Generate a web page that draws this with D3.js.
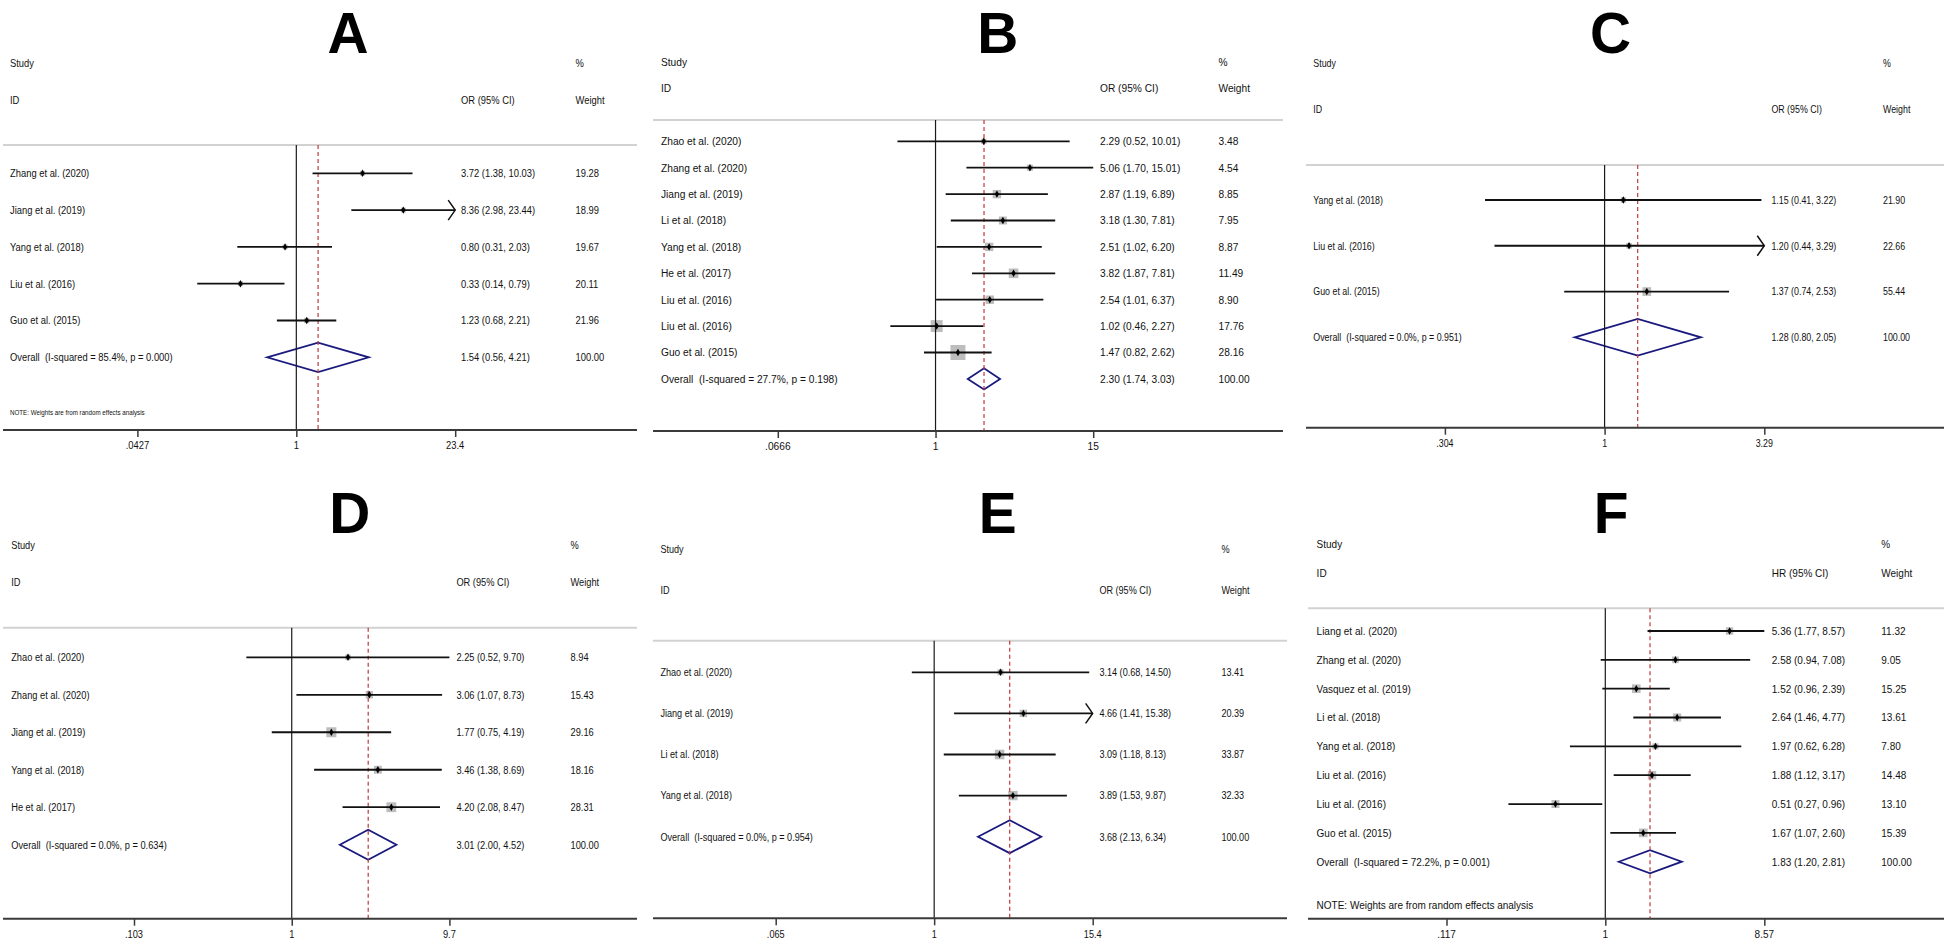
<!DOCTYPE html>
<html><head><meta charset="utf-8">
<script src="https://cdn.jsdelivr.net/npm/d3@7"></script>
<style>
body{margin:0;background:#fff}
svg{display:block}
text{font-family:"Liberation Sans",Arial,"DejaVu Sans",sans-serif;fill:#111;white-space:pre}
</style>
</head><body>
<svg id="chart" width="1944" height="942"></svg>
<script>
// ---------- Panel A ----------
const studiesA = ["Zhang et al. (2020)","Jiang et al. (2019)","Yang et al. (2018)","Liu et al. (2016)","Guo et al. (2015)"];
const estA = [3.72, 8.36, 0.80, 0.33, 1.23];
const lowA = [1.38, 2.98, 0.31, 0.14, 0.68];
const highA = [10.03, 23.44, 2.03, 0.79, 2.21];
const weightA = [19.28, 18.99, 19.67, 20.11, 21.96];
const arrowA = [false, true, false, false, false];
const overallA = [1.54, 0.56, 4.21];
const hetA = ["85.4%", "0.000"];
const tickValsA = [0.0427, 1, 23.4];
const tickLabelsA = [".0427", "1", "23.4"];

// ---------- Panel B ----------
const studiesB = ["Zhao et al. (2020)","Zhang et al. (2020)","Jiang et al. (2019)","Li et al. (2018)","Yang et al. (2018)","He et al. (2017)","Liu et al. (2016)","Liu et al. (2016)","Guo et al. (2015)"];
const estB = [2.29, 5.06, 2.87, 3.18, 2.51, 3.82, 2.54, 1.02, 1.47];
const lowB = [0.52, 1.70, 1.19, 1.30, 1.02, 1.87, 1.01, 0.46, 0.82];
const highB = [10.01, 15.01, 6.89, 7.81, 6.20, 7.81, 6.37, 2.27, 2.62];
const weightB = [3.48, 4.54, 8.85, 7.95, 8.87, 11.49, 8.90, 17.76, 28.16];
const arrowB = [false, false, false, false, false, false, false, false, false];
const overallB = [2.30, 1.74, 3.03];
const hetB = ["27.7%", "0.198"];
const tickValsB = [0.0666, 1, 15];
const tickLabelsB = [".0666", "1", "15"];

// ---------- Panel C ----------
const studiesC = ["Yang et al. (2018)","Liu et al. (2016)","Guo et al. (2015)"];
const estC = [1.15, 1.20, 1.37];
const lowC = [0.41, 0.44, 0.74];
const highC = [3.22, 3.29, 2.53];
const weightC = [21.90, 22.66, 55.44];
const arrowC = [false, true, false];
const overallC = [1.28, 0.80, 2.05];
const hetC = ["0.0%", "0.951"];
const tickValsC = [0.304, 1, 3.29];
const tickLabelsC = [".304", "1", "3.29"];

// ---------- Panel D ----------
const studiesD = ["Zhao et al. (2020)","Zhang et al. (2020)","Jiang et al. (2019)","Yang et al. (2018)","He et al. (2017)"];
const estD = [2.25, 3.06, 1.77, 3.46, 4.20];
const lowD = [0.52, 1.07, 0.75, 1.38, 2.08];
const highD = [9.70, 8.73, 4.19, 8.69, 8.47];
const weightD = [8.94, 15.43, 29.16, 18.16, 28.31];
const arrowD = [false, false, false, false, false];
const overallD = [3.01, 2.00, 4.52];
const hetD = ["0.0%", "0.634"];
const tickValsD = [0.103, 1, 9.7];
const tickLabelsD = [".103", "1", "9.7"];

// ---------- Panel E ----------
const studiesE = ["Zhao et al. (2020)","Jiang et al. (2019)","Li et al. (2018)","Yang et al. (2018)"];
const estE = [3.14, 4.66, 3.09, 3.89];
const lowE = [0.68, 1.41, 1.18, 1.53];
const highE = [14.50, 15.38, 8.13, 9.87];
const weightE = [13.41, 20.39, 33.87, 32.33];
const arrowE = [false, true, false, false];
const overallE = [3.68, 2.13, 6.34];
const hetE = ["0.0%", "0.954"];
const tickValsE = [0.065, 1, 15.4];
const tickLabelsE = [".065", "1", "15.4"];

// ---------- Panel F ----------
const studiesF = ["Liang et al. (2020)","Zhang et al. (2020)","Vasquez et al. (2019)","Li et al. (2018)","Yang et al. (2018)","Liu et al. (2016)","Liu et al. (2016)","Guo et al. (2015)"];
const estF = [5.36, 2.58, 1.52, 2.64, 1.97, 1.88, 0.51, 1.67];
const lowF = [1.77, 0.94, 0.96, 1.46, 0.62, 1.12, 0.27, 1.07];
const highF = [8.57, 7.08, 2.39, 4.77, 6.28, 3.17, 0.96, 2.60];
const weightF = [11.32, 9.05, 15.25, 13.61, 7.80, 14.48, 13.10, 15.39];
const arrowF = [false, false, false, false, false, false, false, false];
const overallF = [1.83, 1.20, 2.81];
const hetF = ["72.2%", "0.001"];
const tickValsF = [0.117, 1, 8.57];
const tickLabelsF = [".117", "1", "8.57"];

const noteText = "NOTE: Weights are from random effects analysis";

// ---------- Layout (positions / sizes only) ----------
const layouts = {
  A:{title:[348,53], study:63.3, id:100, rule:145, row0:173.3, step:36.8, axis:430, x1:296.3, half:158.9, left:10, colEst:461, colW:575.5, lineL:3, lineR:637, noteY:412, noteSize:7.3, box:1.12, sx:0.853},
  B:{title:[997.7,53], study:62, id:88.3, rule:120, row0:141.3, step:26.4, axis:431, x1:935.5, half:157.7, left:661, colEst:1100, colW:1218.5, lineL:653, lineR:1283, box:2.83, sx:0.927},
  C:{title:[1610.4,53], study:63.3, id:108.7, rule:165, row0:200, step:45.77, axis:427.7, x1:1604.6, half:159.7, left:1313.3, colEst:1771.4, colW:1883, lineL:1306, lineR:1944, box:1.17, sx:0.805},
  D:{title:[349.8,533], study:545, id:582.3, rule:627.7, row0:657.3, step:37.48, axis:918.7, x1:291.7, half:157.7, left:11.2, colEst:456.4, colW:570.5, lineL:3, lineR:637, box:1.85, sx:0.844},
  E:{title:[997.7,533], study:549, id:590, rule:640.7, row0:672.3, step:41.1, axis:918.3, x1:934.2, half:158.5, left:660.4, colEst:1099.4, colW:1221.4, lineL:653, lineR:1287, box:1.65, sx:0.827},
  F:{title:[1611.2,533], study:544, id:573, rule:608.3, row0:631, step:28.84, axis:918.7, x1:1605.4, half:158.9, left:1316.6, colEst:1771.8, colW:1881.3, lineL:1308, lineR:1944, noteY:905, noteSize:11, box:2.2, sx:0.909}
};

const panels = [
  {id:"A", studies:studiesA, est:estA, low:lowA, high:highA, weight:weightA, arrow:arrowA, overall:overallA, het:hetA, tickVals:tickValsA, tickLabels:tickLabelsA, measure:"OR (95% CI)", note:true},
  {id:"B", studies:studiesB, est:estB, low:lowB, high:highB, weight:weightB, arrow:arrowB, overall:overallB, het:hetB, tickVals:tickValsB, tickLabels:tickLabelsB, measure:"OR (95% CI)", note:false},
  {id:"C", studies:studiesC, est:estC, low:lowC, high:highC, weight:weightC, arrow:arrowC, overall:overallC, het:hetC, tickVals:tickValsC, tickLabels:tickLabelsC, measure:"OR (95% CI)", note:false},
  {id:"D", studies:studiesD, est:estD, low:lowD, high:highD, weight:weightD, arrow:arrowD, overall:overallD, het:hetD, tickVals:tickValsD, tickLabels:tickLabelsD, measure:"OR (95% CI)", note:false},
  {id:"E", studies:studiesE, est:estE, low:lowE, high:highE, weight:weightE, arrow:arrowE, overall:overallE, het:hetE, tickVals:tickValsE, tickLabels:tickLabelsE, measure:"OR (95% CI)", note:false},
  {id:"F", studies:studiesF, est:estF, low:lowF, high:highF, weight:weightF, arrow:arrowF, overall:overallF, het:hetF, tickVals:tickValsF, tickLabels:tickLabelsF, measure:"HR (95% CI)", note:true}
];

const svg = d3.select("#chart");
const f2 = d3.format(".2f");
const FS = 11;

function addText(g, x, y, str, sx, size, anchor, bold){
  return g.append("text")
    .attr("transform", `translate(${x},${y}) scale(${sx},1)`)
    .attr("dy", "0.35em")
    .attr("text-anchor", anchor || "start")
    .style("font-size", size + "px")
    .style("font-weight", bold ? "bold" : "normal")
    .text(str);
}

panels.forEach(p => {
  const L = layouts[p.id];
  const g = svg.append("g").attr("class", "panel-" + p.id);
  const n = p.studies.length;
  const x = d3.scaleLog()
    .domain([p.tickVals[0], p.tickVals[2]])
    .range([L.x1 - L.half, L.x1 + L.half])
    .clamp(true);
  const y = d3.scaleLinear().domain([0, n]).range([L.row0, L.row0 + n * L.step]);
  const rows = d3.range(n);

  // title letter
  g.append("text")
    .attr("transform", `translate(${L.title[0]},${L.title[1]}) scale(0.98,1)`)
    .attr("text-anchor", "middle")
    .style("font-size", "58px")
    .style("font-weight", "bold")
    .style("fill", "#000")
    .text(p.id);

  // headers
  addText(g, L.left, L.study, "Study", L.sx, FS);
  addText(g, L.left, L.id, "ID", L.sx, FS);
  addText(g, L.colW, L.study, "%", L.sx, FS);
  addText(g, L.colEst, L.id, p.measure, L.sx, FS);
  addText(g, L.colW, L.id, "Weight", L.sx, FS);

  // header rule
  g.append("line").attr("x1", L.lineL).attr("x2", L.lineR).attr("y1", L.rule).attr("y2", L.rule)
    .attr("stroke", "#d2d2d2").attr("stroke-width", 2);

  // weight boxes
  g.selectAll("rect.box").data(rows).join("rect").attr("class", "box")
    .attr("x", i => x(p.est[i]) - L.box * Math.sqrt(p.weight[i]) / 2)
    .attr("y", i => y(i) - L.box * Math.sqrt(p.weight[i]) / 2)
    .attr("width", i => L.box * Math.sqrt(p.weight[i]))
    .attr("height", i => L.box * Math.sqrt(p.weight[i]))
    .attr("fill", "#bdbdbd");

  // overall diamond
  const yo = y(n), h = 0.4 * L.step;
  g.append("path")
    .attr("d", `M${x(p.overall[1])},${yo}L${x(p.overall[0])},${yo - h}L${x(p.overall[2])},${yo}L${x(p.overall[0])},${yo + h}Z`)
    .attr("fill", "none").attr("stroke", "#1a1a7e").attr("stroke-width", 1.8);

  // null line and overall dashed line
  g.append("line").attr("x1", x(1)).attr("x2", x(1)).attr("y1", L.rule).attr("y2", L.axis)
    .attr("stroke", "#1a1a1a").attr("stroke-width", 1.2);
  g.append("line").attr("x1", x(p.overall[0])).attr("x2", x(p.overall[0])).attr("y1", L.rule).attr("y2", L.axis)
    .attr("stroke", "#c0393b").attr("stroke-width", 1.2).attr("stroke-dasharray", "4,3");

  // CI lines
  g.selectAll("line.ci").data(rows).join("line").attr("class", "ci")
    .attr("x1", i => x(p.low[i])).attr("x2", i => x(p.high[i]))
    .attr("y1", i => y(i)).attr("y2", i => y(i))
    .attr("stroke", "#111").attr("stroke-width", 1.8);

  // arrows for truncated CIs
  g.selectAll("path.arrow").data(rows.filter(i => p.arrow[i])).join("path").attr("class", "arrow")
    .attr("d", i => { const xe = x(p.high[i]), yy = y(i); return `M${xe - 7},${yy - 10}L${xe},${yy}L${xe - 7},${yy + 10}`; })
    .attr("fill", "none").attr("stroke", "#111").attr("stroke-width", 1.5);

  // point estimates
  g.selectAll("path.pt").data(rows).join("path").attr("class", "pt")
    .attr("transform", i => `translate(${x(p.est[i])},${y(i)})`)
    .attr("d", d3.symbol().type(d3.symbolDiamond).size(16))
    .attr("fill", "#000");

  // row texts
  rows.forEach(i => {
    addText(g, L.left, y(i), p.studies[i], L.sx, FS);
    addText(g, L.colEst, y(i), `${f2(p.est[i])} (${f2(p.low[i])}, ${f2(p.high[i])})`, L.sx, FS);
    addText(g, L.colW, y(i), f2(p.weight[i]), L.sx, FS);
  });
  addText(g, L.left, yo, `Overall  (I-squared = ${p.het[0]}, p = ${p.het[1]})`, L.sx, FS);
  addText(g, L.colEst, yo, `${f2(p.overall[0])} (${f2(p.overall[1])}, ${f2(p.overall[2])})`, L.sx, FS);
  addText(g, L.colW, yo, f2(100), L.sx, FS);

  if (p.note) addText(g, L.left, L.noteY, noteText, L.sx, L.noteSize);

  // x axis
  g.append("line").attr("x1", L.lineL).attr("x2", L.lineR).attr("y1", L.axis).attr("y2", L.axis)
    .attr("stroke", "#3a3a3a").attr("stroke-width", 2);
  const ax = g.append("g").attr("transform", `translate(0,${L.axis})`)
    .call(d3.axisBottom(x).tickValues(p.tickVals).tickFormat((d, i) => p.tickLabels[i]).tickSize(7).tickSizeOuter(0));
  ax.select(".domain").remove();
  ax.selectAll(".tick line").attr("stroke", "#3a3a3a").attr("stroke-width", 1.5);
  ax.selectAll(".tick text").remove();
  p.tickVals.forEach((v, i) => addText(g, x(v), L.axis + 15.5, p.tickLabels[i], L.sx, FS, "middle"));
});
</script>
</body></html>
